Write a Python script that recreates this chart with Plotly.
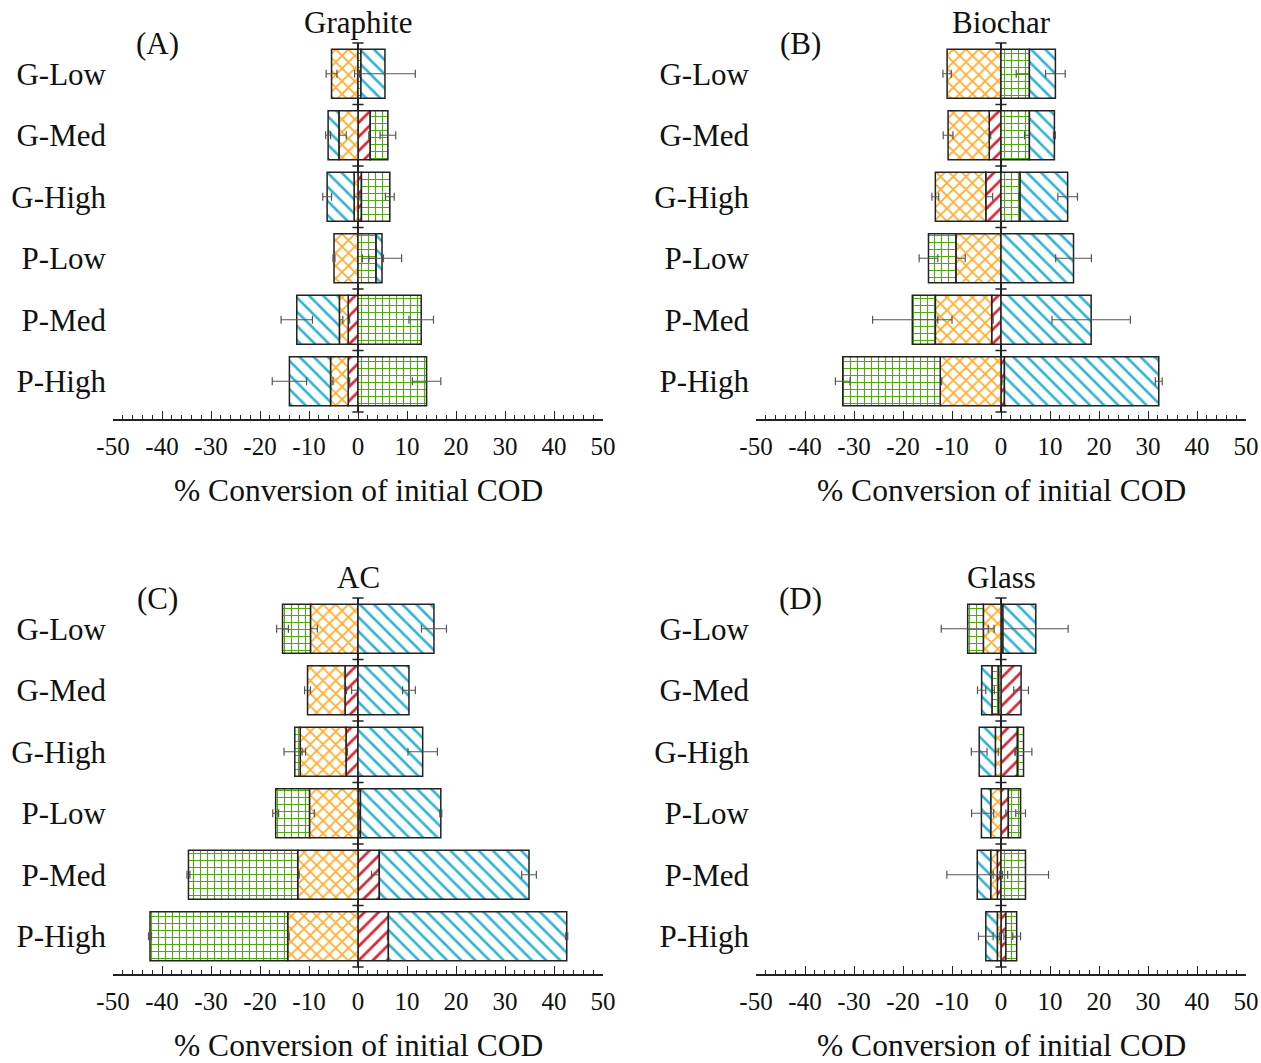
import plotly.graph_objects as go

# ---------------- data ----------------
categories = ["G-Low", "G-Med", "G-High", "P-Low", "P-Med", "P-High"]
panel_titles = ["Graphite", "Biochar", "AC", "Glass"]
panel_letters = ["(A)", "(B)", "(C)", "(D)"]
x_ticks = [-50, -40, -30, -20, -10, 0, 10, 20, 30, 40, 50]
x_title = "% Conversion of initial COD"

# Graphite
graphite_red = [0, 2.5, 0.7, 0, -2.0, -2.0]
graphite_orange = [-5.4, -3.9, -0.8, -4.9, -1.8, -3.6]
graphite_green = [0.6, 3.6, 5.8, 3.7, 12.9, 14.0]
graphite_blue = [4.9, -2.2, -5.5, 1.2, -8.7, -8.4]
graphite_red_err = [0, 0.3, 0.3, 0, 0.3, 0.3]
graphite_orange_err = [1.1, 1.5, 1.6, 0.2, 0.7, 0.5]
graphite_green_err = [0.3, 1.6, 0.9, 1.5, 2.5, 2.9]
graphite_blue_err = [6.2, 0.5, 0.9, 4.0, 3.2, 3.5]

# Biochar
biochar_red = [0, -2.4, -3.1, 0, -1.9, 0.7]
biochar_orange = [-11.0, -8.4, -10.3, -9.2, -11.5, -12.4]
biochar_green = [5.8, 5.8, 3.9, -5.6, -4.7, -19.9]
biochar_blue = [5.3, 5.1, 9.7, 14.8, 18.4, 31.5]
biochar_red_err = [0, 0.3, 1.4, 0, 0.3, 0.5]
biochar_orange_err = [0.85, 1.0, 0.7, 1.9, 0.5, 0.3]
biochar_green_err = [2.7, 1.0, 0.3, 1.9, 8.1, 1.5]
biochar_blue_err = [2.0, 0.2, 2.0, 3.65, 8.0, 0.7]

# AC
ac_red = [0, -2.65, -2.45, 0.5, 4.35, 6.2]
ac_orange = [-9.7, -7.65, -9.35, -9.9, -12.3, -14.35]
ac_green = [-5.7, 0, -1.1, -6.9, -22.3, -28.1]
ac_blue = [15.5, 10.4, 13.2, 16.4, 30.55, 36.4]
ac_red_err = [0, 0.3, 0.3, 0.2, 1.6, 0.2]
ac_orange_err = [1.4, 0.6, 0.4, 1.0, 0.3, 0.3]
ac_green_err = [1.2, 1.3, 2.2, 0.6, 0.3, 0.3]
ac_blue_err = [2.55, 1.3, 3.0, 0.2, 1.5, 0.2]

# Glass
glass_red = [0.4, 4.1, 3.35, 1.5, -0.75, 1.0]
glass_orange = [-3.6, -0.5, -1.15, -2.1, -1.35, -0.75]
glass_green = [-3.2, -1.35, 1.25, 2.5, 5.0, 2.2]
glass_blue = [6.7, -2.1, -3.3, -1.9, -2.75, -2.35]
glass_red_err = [0.5, 1.5, 0.5, 0.5, 0.5, 0.4]
glass_orange_err = [1.0, 0.4, 0.6, 0.6, 0.5, 0.4]
glass_green_err = [5.4, 0.5, 1.7, 1.0, 4.7, 0.8]
glass_blue_err = [6.6, 0.85, 1.6, 2.0, 6.2, 1.5]

# ---------------- styling ----------------
W, H = 1261, 1063
FONT = "Liberation Serif"
series_style = [
    # (name, pattern shape, colour, pattern size, solidity)
    ("Red", "/", "#d42a3a", 10, 0.28),
    ("Orange", "x", "#ffab28", 9, 0.34),
    ("Green", "+", "#52a812", 7, 0.30),
    ("Blue", "\\", "#33b2d4", 10, 0.26),
]

panels = [
    ([graphite_red, graphite_orange, graphite_green, graphite_blue],
     [graphite_red_err, graphite_orange_err, graphite_green_err, graphite_blue_err]),
    ([biochar_red, biochar_orange, biochar_green, biochar_blue],
     [biochar_red_err, biochar_orange_err, biochar_green_err, biochar_blue_err]),
    ([ac_red, ac_orange, ac_green, ac_blue],
     [ac_red_err, ac_orange_err, ac_green_err, ac_blue_err]),
    ([glass_red, glass_orange, glass_green, glass_blue],
     [glass_red_err, glass_orange_err, glass_green_err, glass_blue_err]),
]

# pixel geometry of each panel: (x_left, x_right, y_top, y_bottom, axis_y)
geom = [
    (113, 603, 43, 412, 420),
    (756, 1246, 43, 412, 420),
    (113, 603, 598, 967, 975),
    (756, 1246, 598, 967, 975),
]

def px(x):
    return x / W

def py(y):
    return 1 - y / H

fig = go.Figure()
ypos = list(range(len(categories)))
boundaries = [i - 0.5 for i in range(len(categories) + 1)]
x_ticktext = [str(t) for t in x_ticks]

layout = dict(
    width=W, height=H,
    margin=dict(l=0, r=0, t=0, b=0, autoexpand=False),
    paper_bgcolor="white", plot_bgcolor="white",
    barmode="relative", bargap=0.2, showlegend=False,
    font=dict(family=FONT, color="#111111"),
)
annotations = []

for k, ((vals, errs), (xl, xr, yt, yb, ay)) in enumerate(zip(panels, geom)):
    n = k + 1
    xa = "x" if n == 1 else f"x{n}"
    ya = "y" if n == 1 else f"y{n}"
    for (name, shape, col, size, sol), v, e in zip(series_style, vals, errs):
        fig.add_trace(go.Bar(
            x=v, y=ypos, orientation="h", name=name,
            xaxis=xa, yaxis=ya,
            marker=dict(
                color="white",
                line=dict(color="#222222", width=1.5),
                pattern=dict(shape=shape, fgcolor=col, bgcolor="white",
                             size=size, solidity=sol, fillmode="replace"),
            ),
            error_x=dict(type="data", array=e, color="#555555",
                         thickness=1.2, width=4),
        ))
    # small marks on the zero line at category boundaries
    fig.add_trace(go.Scatter(
        x=[0] * len(boundaries), y=boundaries, mode="markers",
        xaxis=xa, yaxis=ya, cliponaxis=False, hoverinfo="skip",
        marker=dict(symbol="line-ew", size=8,
                    line=dict(color="#222222", width=1.5)),
    ))

    layout[f"xaxis{'' if n == 1 else n}"] = dict(
        domain=[px(xl), px(xr)], range=[x_ticks[0], x_ticks[-1]],
        anchor="free", position=py(ay), automargin=False,
        tickmode="array", tickvals=x_ticks, ticktext=x_ticktext,
        showline=True, linecolor="#222222", linewidth=1.5,
        ticks="inside", ticklen=8, tickwidth=1.3, tickcolor="#222222",
        minor=dict(dtick=2, ticks="inside", ticklen=4, tickwidth=1,
                   tickcolor="#222222"),
        tickfont=dict(family=FONT, size=25, color="#111111"),
        ticklabelstandoff=4,
        showgrid=False, zeroline=True, zerolinecolor="#222222",
        zerolinewidth=1.5,
    )
    layout[f"yaxis{'' if n == 1 else n}"] = dict(
        domain=[py(yb), py(yt)], range=[len(categories) - 0.5, -0.5],
        anchor=xa, automargin=False,
        tickmode="array", tickvals=ypos, ticktext=categories,
        showline=False, ticks="", showgrid=False, zeroline=False,
        tickfont=dict(family=FONT, size=31, color="#111111"),
        ticklabelstandoff=6,
    )

    xc = (xl + xr) / 2
    annotations.append(dict(
        text=panel_titles[k], x=px(xc), y=py(yt - 21), xref="paper",
        yref="paper", xanchor="center", yanchor="middle", showarrow=False,
        font=dict(family=FONT, size=31, color="#111111")))
    annotations.append(dict(
        text=panel_letters[k], x=px(xl + 44), y=py(yt + 0), xref="paper",
        yref="paper", xanchor="center", yanchor="middle", showarrow=False,
        font=dict(family=FONT, size=31, color="#111111")))
    annotations.append(dict(
        text=x_title, x=px(xc), y=py(ay + 70), xref="paper", yref="paper",
        xanchor="center", yanchor="middle", showarrow=False,
        font=dict(family=FONT, size=31.5, color="#111111")))

layout["annotations"] = annotations
fig.update_layout(**layout)
fig.write_html("out.html")
